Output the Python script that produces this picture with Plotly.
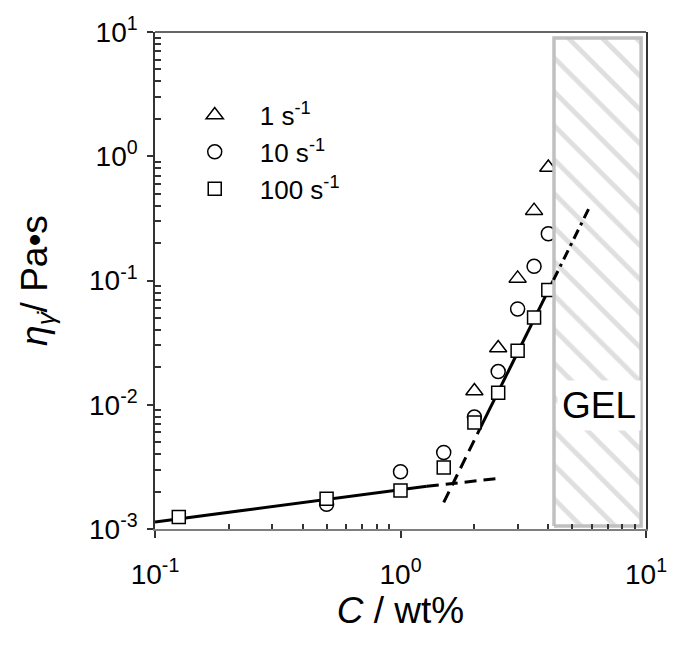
import math
import plotly.graph_objects as go

# ---- data ----
sq_x = [0.125, 0.5, 1.0, 1.5, 2.0, 2.5, 3.0, 3.5, 4.0]
sq_y = [1.25e-3, 1.75e-3, 2.04e-3, 3.13e-3, 7.2e-3, 1.25e-2, 2.72e-2, 5.03e-2, 8.4e-2]
ci_x = [0.5, 1.0, 1.5, 2.0, 2.5, 3.0, 3.5, 4.0]
ci_y = [1.58e-3, 2.89e-3, 4.13e-3, 7.96e-3, 1.85e-2, 5.9e-2, 0.130, 0.238]
tr_x = [2.0, 2.5, 3.0, 3.5, 4.0]
tr_y = [1.29e-2, 2.86e-2, 0.104, 0.365, 0.811]

low_solid_x = [0.1, 1.28]
low_solid_y = [1.14e-3, 2.21e-3]
low_dash_x = [1.28, 2.6]
low_dash_y = [2.21e-3, 2.57e-3]
steep_dash_x = [1.5, 2.1]
steep_dash_y = [1.64e-3, 6.33e-3]
steep_solid_x = [2.1, 4.2]
steep_solid_y = [6.33e-3, 0.101]
steep_dd_x = [4.2, 5.84]
steep_dd_y = [0.101, 0.377]

gel_x = [4.22, 9.55, 9.55, 4.22, 4.22]
gel_y = [1.057e-3, 1.057e-3, 8.95, 8.95, 1.057e-3]
gel_label_x = 6.45
gel_label_y = 9.8e-3

x_tickvals = [0.1, 1, 10]
x_ticktext = ["10<sup>-1</sup>", "10<sup>0</sup>", "10<sup>1</sup>"]
y_tickvals = [0.001, 0.01, 0.1, 1, 10]
y_ticktext = ["10<sup>-3</sup>", "10<sup>-2</sup>", "10<sup>-1</sup>", "10<sup>0</sup>", "10<sup>1</sup>"]
x_minor = [0.2, 0.3, 0.4, 0.5, 0.6, 0.7, 0.8, 0.9, 2, 3, 4, 5, 6, 7, 8, 9]
y_minor = [m * d for d in [0.001, 0.01, 0.1, 1] for m in range(2, 10)]

FONT = "Arial, Liberation Sans, sans-serif"

fig = go.Figure()

line_style = dict(color="black", width=3)
fig.add_trace(go.Scatter(x=low_solid_x, y=low_solid_y, mode="lines", line=line_style, showlegend=False))
fig.add_trace(go.Scatter(x=low_dash_x, y=low_dash_y, mode="lines", line=dict(line_style, dash="12px,7px"), showlegend=False))
fig.add_trace(go.Scatter(x=steep_dash_x, y=steep_dash_y, mode="lines", line=dict(line_style, dash="12px,7px"), showlegend=False))
fig.add_trace(go.Scatter(x=steep_solid_x, y=steep_solid_y, mode="lines", line=line_style, showlegend=False))

mk = dict(color="white", size=14, line=dict(color="black", width=1.5))
fig.add_trace(go.Scatter(x=ci_x, y=ci_y, mode="markers", name="10 s<sup>-1</sup>",
                         marker=dict(mk, symbol="circle"), legendrank=2))
fig.add_trace(go.Scatter(x=tr_x, y=tr_y, mode="markers", name="1 s<sup>-1</sup>",
                         marker=dict(mk, symbol="triangle-up", size=15), legendrank=1))
fig.add_trace(go.Scatter(x=sq_x, y=sq_y, mode="markers", name="100 s<sup>-1</sup>",
                         marker=dict(mk, symbol="square", size=13), legendrank=3))

fig.add_trace(go.Scatter(x=gel_x, y=gel_y, mode="lines", fill="toself",
                         fillcolor="white",
                         fillpattern=dict(shape="\\", fgcolor="#c0c0c0", bgcolor="white", size=24, solidity=0.2),
                         line=dict(color="#c0c0c0", width=3.5), showlegend=False, hoverinfo="skip"))
fig.add_trace(go.Scatter(x=steep_dd_x, y=steep_dd_y, mode="lines", line=dict(line_style, dash="10px,5px,3px,5px"), showlegend=False))

fig.add_annotation(x=math.log10(gel_label_x), y=math.log10(gel_label_y), xref="x", yref="y",
                   text="GEL", showarrow=False,
                   font=dict(family=FONT, size=37, color="black"), bgcolor="white", borderpad=4)

fig.add_shape(type="line", xref="paper", yref="paper", x0=0, x1=1, y0=1, y1=1,
              line=dict(color="#333333", width=1.5))

fig.update_layout(
    width=679, height=646,
    margin=dict(l=155, r=22, t=27, b=117),
    paper_bgcolor="white", plot_bgcolor="white",
    font=dict(family=FONT, color="black"),
    showlegend=True,
    legend=dict(x=0.03, y=0.88, xanchor="left", yanchor="top", bgcolor="rgba(0,0,0,0)",
                font=dict(family=FONT, size=26), itemwidth=80),
)
fig.update_xaxes(
    type="log", range=[-1, 1], tickmode="array", tickvals=x_tickvals, ticktext=x_ticktext,
    ticks="outside", ticklen=7, tickwidth=1.5, tickcolor="#333333",
    tickfont=dict(size=28, family=FONT), ticklabelstandoff=12,
    minor=dict(tickmode="array", tickvals=x_minor, ticks="inside", ticklen=5, tickwidth=1.5, tickcolor="#333333", showgrid=False),
    showline=True, linecolor="#7f7f7f", linewidth=2, showgrid=False, zeroline=False,
    title=dict(text="<i>C</i> / wt%", font=dict(size=37, family=FONT), standoff=4),
)
fig.update_yaxes(
    type="log", range=[-3, 1], tickmode="array", tickvals=y_tickvals, ticktext=y_ticktext,
    ticks="outside", ticklen=6, tickwidth=1.5, tickcolor="#333333",
    tickfont=dict(size=28, family=FONT), ticklabelstandoff=4,
    minor=dict(tickmode="array", tickvals=y_minor, ticks="inside", ticklen=6, tickwidth=1.5, tickcolor="#333333", showgrid=False),
    showline=True, linecolor="#333333", linewidth=1.5, mirror=True, showgrid=False, zeroline=False,
    title=dict(text="<i>η</i><sub><i>γ̇</i></sub>/ Pa•s", font=dict(size=37, family=FONT), standoff=30),
)

fig.write_html("out.html")
